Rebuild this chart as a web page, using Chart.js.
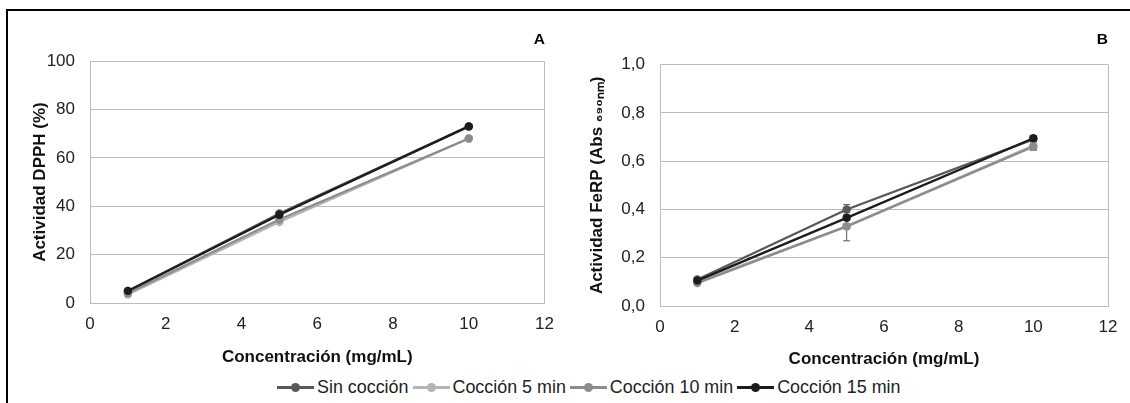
<!DOCTYPE html>
<html>
<head>
<meta charset="utf-8">
<script src="https://cdn.jsdelivr.net/npm/chart.js@4.4.1/dist/chart.umd.min.js"></script>
<style>
    body { margin: 0; background: #fff; width: 1130px; height: 403px; overflow: hidden; position: relative; font-family: 'Liberation Sans', Arial, sans-serif; }
    #frame { position: absolute; left: 6px; top: 9px; width: 1140px; height: 420px; border: 2px solid #000; box-sizing: border-box; }
    canvas { position: absolute; top: 0; }
    #chartA { left: 0; }
    #chartB { left: 565px; }
    #legend { position: absolute; left: 277px; top: 376px; height: 22px; display: flex; align-items: center; font-size: 17.9px; color: #222; white-space: nowrap; }
    .item { display: flex; align-items: center; margin-right: 4px; }
    .icon { position: relative; width: 37px; height: 3px; margin-right: 3px; }
    .icon span { position: absolute; left: 14px; top: -3px; width: 9px; height: 9px; border-radius: 50%; }
</style>
</head>
<body>
<div id="frame"></div>
<canvas id="chartA" width="565" height="372"></canvas>
<canvas id="chartB" width="565" height="372"></canvas>
<div id="legend"></div>
<script>
// concentración (mg/mL)
const concentrations = [1, 5, 10];
const seriesNames = ['Sin cocción', 'Cocción 5 min', 'Cocción 10 min', 'Cocción 15 min'];
const seriesColors = ['#595959', '#b5b5b5', '#8c8c8c', '#1c1c1c'];

// A: actividad DPPH (%)
const dpphSin = [5, 37, 73];
const dpph5 = [3.5, 33.5, 68];
const dpph10 = [4, 34.5, 68];
const dpph15 = [5, 36.5, 73];

// B: actividad FeRP (Abs 690nm) y desviaciones
const ferpSin = [0.11, 0.40, 0.69];
const ferp5 = [0.10, 0.33, 0.665];
const ferp10 = [0.095, 0.33, 0.66];
const ferp15 = [0.105, 0.365, 0.695];
const errSin = [0.005, 0.02, 0.01];
const err5 = [0.005, 0.06, 0.02];
const err10 = [0.005, 0.01, 0.01];
const err15 = [0.005, 0.01, 0.01];

const xTickLabels = ['0', '2', '4', '6', '8', '10', '12'];
const yTickLabelsA = ['0', '20', '40', '60', '80', '100'];
const yTickLabelsB = ['0,0', '0,2', '0,4', '0,6', '0,8', '1,0'];

const FONT = "'Liberation Sans', Arial, sans-serif";
const GRID = '#bcbcbc';

Chart.defaults.font.family = FONT;
Chart.defaults.color = '#222';

const makeDatasets = (values, errors) => values.map((vals, i) => ({
    label: seriesNames[i],
    data: vals.map((v, j) => ({ x: concentrations[j], y: v })),
    errors: errors ? errors[i] : null,
    borderColor: seriesColors[i],
    backgroundColor: seriesColors[i],
    pointBackgroundColor: seriesColors[i],
    pointBorderWidth: 0,
    pointRadius: 4.2,
    borderWidth: 2.3,
    tension: 0,
    order: 3 - i
}));

// error bars from the y scale
const errorBars = {
    id: 'errorBars',
    beforeDatasetsDraw(chart) {
        const ctx = chart.ctx;
        const yScale = chart.scales.y;
        ctx.save();
        ctx.strokeStyle = '#555';
        ctx.lineWidth = 1;
        chart.data.datasets.forEach((ds, i) => {
            if (!ds.errors) return;
            const meta = chart.getDatasetMeta(i);
            meta.data.forEach((pt, j) => {
                const v = ds.data[j].y;
                const e = ds.errors[j];
                const top = yScale.getPixelForValue(v + e);
                const bottom = yScale.getPixelForValue(v - e);
                ctx.beginPath();
                ctx.moveTo(pt.x, top);
                ctx.lineTo(pt.x, bottom);
                ctx.moveTo(pt.x - 3.5, top);
                ctx.lineTo(pt.x + 3.5, top);
                ctx.moveTo(pt.x - 3.5, bottom);
                ctx.lineTo(pt.x + 3.5, bottom);
                ctx.stroke();
            });
        });
        ctx.restore();
    }
};

const createChart = (id, cfg) => new Chart(document.getElementById(id), {
    type: 'line',
    data: { datasets: cfg.datasets },
    plugins: cfg.plugins || [],
    options: {
        responsive: false,
        animation: false,
        layout: { padding: { left: 0, right: cfg.padRight, top: 0, bottom: 0 } },
        plugins: {
            legend: { display: false },
            tooltip: { enabled: false },
            title: {
                display: true,
                text: cfg.letter,
                align: 'end',
                color: '#000',
                font: { size: 15.5, weight: 'bold' },
                padding: { top: 30.5, bottom: cfg.titleGap }
            }
        },
        scales: {
            x: {
                type: 'linear',
                min: 0,
                max: 12,
                afterFit: s => { s.height = cfg.xHeight; },
                ticks: {
                    stepSize: 2,
                    padding: 11,
                    font: { size: 17 },
                    color: '#222',
                    callback: (v, i) => xTickLabels[i]
                },
                grid: {
                    drawTicks: false,
                    color: c => (c.tick && (c.tick.value === 0 || c.tick.value === 12)) ? GRID : 'transparent'
                },
                border: { display: true, color: GRID, width: 1 },
                title: {
                    display: true,
                    text: 'Concentración (mg/mL)',
                    color: '#111',
                    font: { size: 17, weight: 'bold' },
                    padding: { top: 0, bottom: cfg.xTitlePad }
                }
            },
            y: {
                min: 0,
                max: cfg.yMax,
                afterFit: s => { s.width = cfg.yWidth; },
                ticks: {
                    stepSize: cfg.yStep,
                    padding: 15,
                    font: { size: 17 },
                    color: '#222',
                    callback: (v, i) => cfg.yLabels[i]
                },
                grid: { drawTicks: false, color: GRID, lineWidth: 1 },
                border: { display: true, color: GRID, width: 1 },
                title: {
                    display: true,
                    text: cfg.yTitle,
                    color: '#111',
                    font: { size: 17, weight: 'bold' },
                    padding: { top: cfg.yTitlePad, bottom: 0 }
                }
            }
        }
    }
});

createChart('chartA', {
    letter: 'A',
    datasets: makeDatasets([dpphSin, dpph5, dpph10, dpph15]),
    padRight: 20,
    titleGap: 12,
    xHeight: 69,
    xTitlePad: 4,
    yWidth: 90,
    yMax: 100,
    yStep: 20,
    yLabels: yTickLabelsA,
    yTitle: 'Actividad DPPH (%)',
    yTitlePad: 30
});

createChart('chartB', {
    letter: 'B',
    datasets: makeDatasets([ferpSin, ferp5, ferp10, ferp15], [errSin, err5, err10, err15]),
    plugins: [errorBars],
    padRight: 22,
    titleGap: 15.5,
    xHeight: 66,
    xTitlePad: 2,
    yWidth: 95,
    yMax: 1,
    yStep: 0.2,
    yLabels: yTickLabelsB,
    yTitle: 'Actividad FeRP (Abs ₆₉₀ₙₘ)',
    yTitlePad: 22
});

// shared legend
const legend = document.getElementById('legend');
seriesNames.forEach((name, i) => {
    const item = document.createElement('div');
    item.className = 'item';
    item.innerHTML = '<div class="icon" style="background:' + seriesColors[i] + '"><span style="background:' + seriesColors[i] + '"></span></div>' + name;
    legend.appendChild(item);
});
</script>
</body>
</html>
